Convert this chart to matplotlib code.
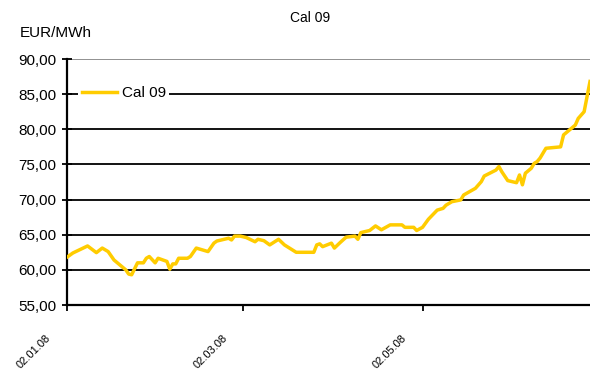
import datetime as dt
import matplotlib
matplotlib.use("Agg")
import matplotlib.pyplot as plt
import matplotlib.dates as mdates
from matplotlib.ticker import FuncFormatter
from matplotlib.transforms import ScaledTranslation

plt.rcParams['font.family'] = ['Liberation Sans', 'DejaVu Sans']

# Cal 09 baseload price, EUR/MWh
dates = ["2008-01-02", "2008-01-04", "2008-01-05", "2008-01-09", "2008-01-12",
         "2008-01-14", "2008-01-16", "2008-01-18", "2008-01-22", "2008-01-23",
         "2008-01-24", "2008-01-26", "2008-01-28", "2008-01-29", "2008-01-30",
         "2008-02-01", "2008-02-02", "2008-02-05", "2008-02-06", "2008-02-07",
         "2008-02-08", "2008-02-09", "2008-02-12", "2008-02-13", "2008-02-15",
         "2008-02-19", "2008-02-21", "2008-02-22", "2008-02-26", "2008-02-27",
         "2008-02-28", "2008-03-01", "2008-03-03", "2008-03-06", "2008-03-07",
         "2008-03-09", "2008-03-11", "2008-03-14", "2008-03-16", "2008-03-20",
         "2008-03-26", "2008-03-27", "2008-03-28", "2008-03-29", "2008-04-01",
         "2008-04-02", "2008-04-04", "2008-04-06", "2008-04-09", "2008-04-10",
         "2008-04-11", "2008-04-14", "2008-04-16", "2008-04-18", "2008-04-21",
         "2008-04-25", "2008-04-26", "2008-04-29", "2008-04-30", "2008-05-02",
         "2008-05-04", "2008-05-07", "2008-05-09", "2008-05-10", "2008-05-12",
         "2008-05-15", "2008-05-16", "2008-05-20", "2008-05-22", "2008-05-23",
         "2008-05-27", "2008-05-28", "2008-05-29", "2008-05-31", "2008-06-03",
         "2008-06-04", "2008-06-05", "2008-06-06", "2008-06-08", "2008-06-09",
         "2008-06-10", "2008-06-11", "2008-06-13", "2008-06-18", "2008-06-19",
         "2008-06-21", "2008-06-23", "2008-06-24", "2008-06-26", "2008-06-27",
         "2008-06-28"]
cal09 = [61.8, 62.4, 62.6, 63.4, 62.45,
         63.1, 62.6, 61.4, 60.0, 59.4,
         59.3, 61.0, 61.0, 61.65, 61.9,
         61.0, 61.65, 61.2, 60.1, 60.85,
         60.85, 61.65, 61.65, 61.9, 63.1,
         62.6, 63.8, 64.1, 64.5, 64.25,
         64.8, 64.8, 64.6, 64.0, 64.35,
         64.15, 63.55, 64.35, 63.55, 62.5,
         62.5, 63.55, 63.7, 63.3, 63.8,
         63.1, 63.9, 64.65, 64.8, 64.35,
         65.3, 65.6, 66.25, 65.7, 66.4,
         66.4, 66.05, 66.05, 65.6, 66.05,
         67.2, 68.5, 68.75, 69.2, 69.7,
         69.95, 70.65, 71.6, 72.55, 73.35,
         74.2, 74.7, 73.95, 72.7, 72.4,
         73.5, 72.1, 73.75, 74.45, 75.15,
         75.4, 75.9, 77.3, 77.5, 79.2,
         79.9, 80.6, 81.55, 82.5, 84.65,
         86.8]
tick_dates = ["2008-01-02", "2008-03-02", "2008-05-02"]
y_ticks = [55, 60, 65, 70, 75, 80, 85, 90]

x = [dt.datetime.strptime(d, "%Y-%m-%d") for d in dates]
xt = [dt.datetime.strptime(d, "%Y-%m-%d") for d in tick_dates]

fig = plt.figure(figsize=(5.9, 3.72), dpi=100)
ax = fig.add_axes([67/590, 1 - 305/372, 523/590, 246/372])

ax.plot(x, cal09, color='#FFCC00', lw=2.5, label='Cal 09', zorder=3,
        solid_joinstyle='round')

ax.set_ylim(55, 90)
ax.set_yticks(y_ticks)
ax.yaxis.set_major_formatter(FuncFormatter(lambda v, p: f"{v:.2f}".replace('.', ',')))
ax.set_xlim(x[0], x[-1])
ax.set_xticks(xt)
ax.xaxis.set_major_formatter(mdates.DateFormatter('%d.%m.%y'))

ax.yaxis.grid(True, color='black', lw=1.3)
ax.get_ygridlines()[-1].set_color('#888888')
ax.set_axisbelow(True)

for s in ['top', 'right']:
    ax.spines[s].set_visible(False)
for s in ['left', 'bottom']:
    ax.spines[s].set_linewidth(1.6)
    ax.spines[s].set_color('black')

ax.tick_params(axis='y', direction='inout', length=7, width=1.3, labelsize=11, pad=4)
ax.tick_params(axis='x', direction='out', length=4, width=1.3, labelsize=8, pad=2)
off = ScaledTranslation(-0.14, -0.20, fig.dpi_scale_trans)
for lab in ax.get_xticklabels():
    lab.set_rotation(45)
    lab.set_ha('right')
    lab.set_va('top')
    lab.set_transform(lab.get_transform() + off)

leg = ax.legend(loc='center left', bbox_to_anchor=(11/523, 0.86), frameon=True,
                fancybox=False, edgecolor='none', facecolor='white', framealpha=1,
                fontsize=11, handlelength=2.3, handletextpad=0.3, borderpad=0.25,
                borderaxespad=0)
leg.set_zorder(4)

fig.text(310/590, 1 - 18/372, 'Cal 09', ha='center', va='center', fontsize=10)
fig.text(20/590, 1 - 33/372, 'EUR/MWh', ha='left', va='center', fontsize=11)

fig.savefig('out.png', dpi=100)
